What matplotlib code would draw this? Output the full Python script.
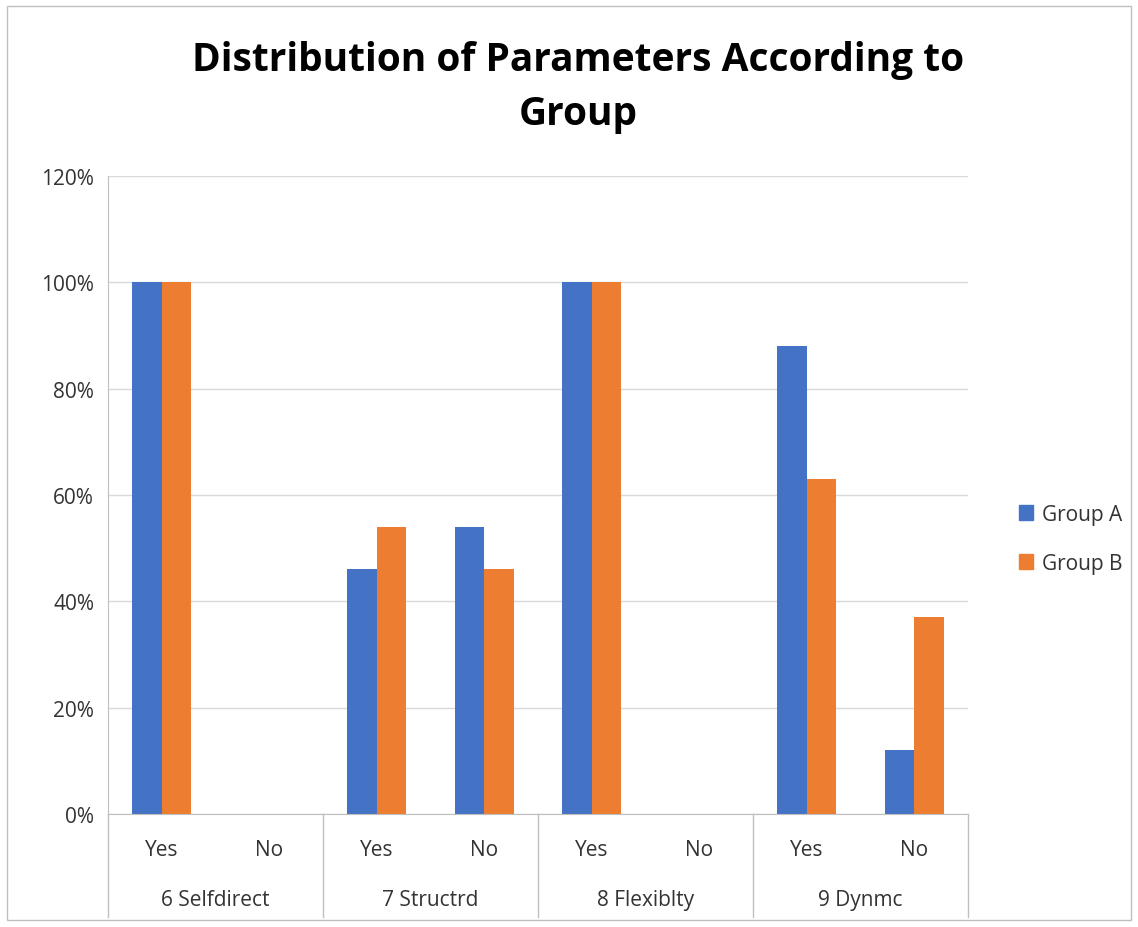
import numpy as np
import matplotlib.pyplot as plt
from matplotlib.patches import Rectangle
from matplotlib.ticker import PercentFormatter

# data
groups = ['6 Selfdirect', '7 Structrd', '8 Flexiblty', '9 Dynmc']
answers = ['Yes', 'No']
group_a = [100, 0, 46, 54, 100, 0, 88, 12]
group_b = [100, 0, 54, 46, 100, 0, 63, 37]
series = ['Group A', 'Group B']
colors = ['#4472C4', '#ED7D31']

plt.rcParams['font.family'] = ['Open Sans', 'DejaVu Sans']

fig = plt.figure(figsize=(11.38, 9.28), dpi=100)
ax = fig.add_axes([108/1138, 113/928, 860/1138, 638/928])

x = np.arange(len(group_a))
w = 0.275
ax.bar(x - w/2, group_a, w, color=colors[0], label=series[0])
ax.bar(x + w/2, group_b, w, color=colors[1], label=series[1])

ax.set_xlim(-0.5, len(x) - 0.5)
ax.set_ylim(0, 120)
ax.set_yticks(np.arange(0, 121, 20))
ax.yaxis.set_major_formatter(PercentFormatter(decimals=0))
ax.grid(axis='y', color='#d9d9d9', linewidth=1)
ax.set_axisbelow(True)
for s in ['top', 'right']:
    ax.spines[s].set_visible(False)
ax.spines['left'].set_color('#bfbfbf')
ax.spines['bottom'].set_color('#bfbfbf')
ax.tick_params(axis='y', length=0, labelsize=15, colors='#333333', pad=10)
ax.set_xticks([])

# two-level category axis
trans = ax.get_xaxis_transform()
for i in range(len(x)):
    ax.text(x[i], -36/638, answers[i % 2], transform=trans, ha='center', va='center',
            fontsize=15, color='#333333')
for j, g in enumerate(groups):
    ax.text(2*j + 0.5, -86/638, g, transform=trans, ha='center', va='center',
            fontsize=15, color='#333333')
for b in range(len(groups) + 1):
    ax.plot([2*b - 0.5, 2*b - 0.5], [0, -103/638], transform=trans, color='#bfbfbf',
            linewidth=1, clip_on=False)

fig.text(578/1138, 1 - 88/928, 'Distribution of Parameters According to\nGroup',
         fontsize=28, fontweight='bold', ha='center', va='center', linespacing=1.5)

h = [Rectangle((0, 0), 1, 1, color=c) for c in colors]
fig.legend(h, series, loc='center left', bbox_to_anchor=(1000/1138, 1 - 540/928),
           frameon=False, fontsize=15, handlelength=0.7, handleheight=0.7,
           labelspacing=1.35, handletextpad=0.4, labelcolor='#333333')

fig.patches.append(Rectangle((7/1138, 7/928), 1124/1138, 914/928, transform=fig.transFigure,
                             fill=False, edgecolor='#bfbfbf', linewidth=1))

fig.savefig('out.png', dpi=100)
